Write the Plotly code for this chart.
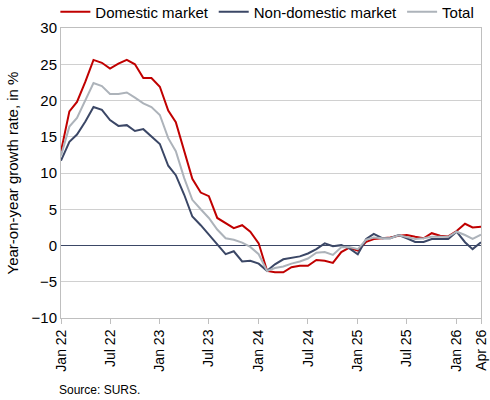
import plotly.graph_objects as go
import pandas as pd

# monthly, Jan 2022 .. Apr 2026
months = pd.date_range("2022-01-01", "2026-04-01", freq="MS")

domestic = [13.0, 18.5, 19.8, 22.6, 25.6, 25.2, 24.4, 25.1, 25.6, 25.0,
            23.1, 23.1, 21.9, 18.6, 17.0, 13.2, 9.2, 7.3, 6.8, 3.8,
            3.1, 2.4, 2.8, 1.9, 0.3, -3.5, -3.7, -3.7, -3.0, -2.8,
            -2.8, -2.0, -2.1, -2.4, -0.9, -0.3, -0.7, 0.5, 0.9, 1.0,
            1.1, 1.35, 1.45, 1.2, 1.0, 1.7, 1.35, 1.25, 2.0, 3.0,
            2.5, 2.6]

non_domestic = [11.7, 14.3, 15.3, 17.1, 19.1, 18.7, 17.3, 16.5, 16.6, 15.8,
                16.05, 15.1, 14.0, 11.0, 9.7, 7.0, 4.0, 2.8, 1.5, 0.2,
                -1.2, -0.8, -2.2, -2.1, -2.5, -3.5, -2.6, -1.9, -1.7, -1.5,
                -1.1, -0.5, 0.3, -0.1, 0.05, -0.4, -1.2, 0.9, 1.6, 1.0,
                1.0, 1.45, 1.0, 0.5, 0.5, 0.9, 0.9, 0.9, 1.9, 0.45,
                -0.5, 0.45]

total = [12.4, 16.4, 17.6, 20.1, 22.4, 22.0, 20.9, 20.9, 21.1, 20.4,
         19.6, 19.1, 18.0, 14.8, 13.0, 9.3, 6.3, 5.0, 3.8, 2.2,
         1.0, 0.8, 0.4, -0.2, -1.2, -3.5, -3.1, -2.9, -2.5, -2.2,
         -1.8, -1.0, -0.9, -1.3, -0.25, -0.2, -0.5, 0.8, 1.1, 1.0,
         1.0, 1.4, 1.2, 0.9, 1.0, 1.2, 1.2, 1.2, 1.9, 1.45,
         0.9, 1.5]

tick_dates = ["2022-01-01", "2022-07-01", "2023-01-01", "2023-07-01", "2024-01-01",
              "2024-07-01", "2025-01-01", "2025-07-01", "2026-01-01", "2026-04-01"]
tick_text = ["Jan 22", "Jul 22", "Jan 23", "Jul 23", "Jan 24",
             "Jul 24", "Jan 25", "Jul 25", "Jan 26", "Apr 26"]

font_family = "Liberation Sans, Arial, sans-serif"

fig = go.Figure()

fig.add_trace(go.Scatter(x=months, y=domestic, name="Domestic market",
                         mode="lines", line=dict(color="#C00000", width=2)))
fig.add_trace(go.Scatter(x=months, y=non_domestic, name="Non-domestic market",
                         mode="lines", line=dict(color="#3B4766", width=2)))
fig.add_trace(go.Scatter(x=months, y=total, name="Total",
                         mode="lines", line=dict(color="#ADB3BA", width=2)))

fig.update_layout(
    width=490, height=400,
    margin=dict(l=61, r=9, t=28, b=82, autoexpand=False),
    paper_bgcolor="white", plot_bgcolor="white",
    font=dict(family=font_family, size=13, color="black"),
    legend=dict(orientation="h", x=0.113, xanchor="left", xref="container",
                y=0.97, yanchor="middle", yref="container",
                font=dict(size=15), itemwidth=30, tracegroupgap=0,
                bgcolor="rgba(0,0,0,0)"),
    showlegend=True,
)

fig.update_xaxes(
    range=[months[0], months[-1]],
    tickvals=tick_dates, ticktext=tick_text, tickangle=-90,
    ticks="outside", ticklen=5, tickcolor="#BFBFBF",
    showgrid=False, showline=True, linecolor="#BFBFBF", linewidth=1, mirror=True,
    tickfont=dict(size=14), automargin=False, ticklabeloverflow="allow",
)

fig.update_yaxes(
    range=[-10, 30], dtick=5,
    showgrid=True, gridcolor="#D0D0D0", gridwidth=1,
    zeroline=True, zerolinecolor="#3B4766", zerolinewidth=1.2,
    showline=True, linecolor="#BFBFBF", linewidth=1, mirror=True,
    tickfont=dict(size=15), automargin=False,
    title=dict(text="Year-on-year growth rate, in %", font=dict(size=15), standoff=9),
)

fig.add_annotation(text="Source: SURS.", xref="paper", yref="paper",
                   x=-0.01, y=-0.248, xanchor="left", yanchor="middle",
                   showarrow=False, font=dict(size=12))

# drop the default 8px body margin so the figure sits at the page corner
fig.write_html("out.html", config={"displayModeBar": False},
               post_script="document.body.style.margin='0';")
